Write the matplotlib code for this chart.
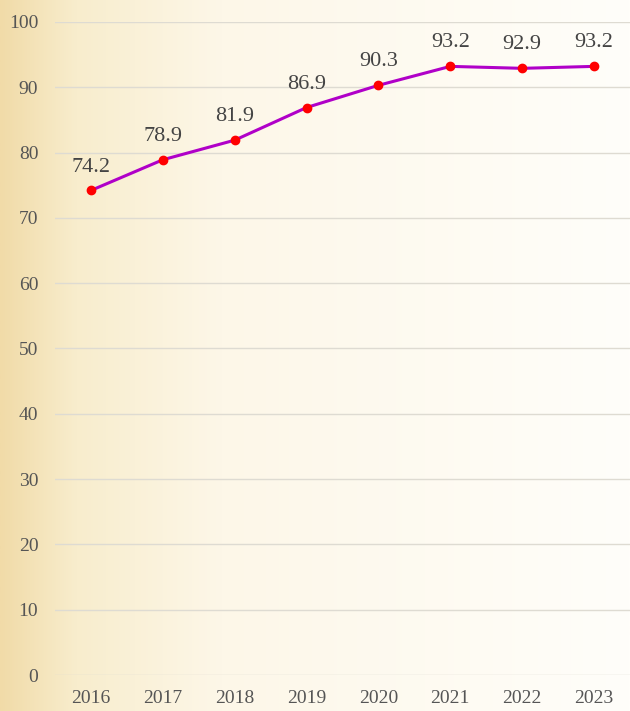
import numpy as np
import matplotlib.pyplot as plt
from matplotlib.colors import LinearSegmentedColormap

years = ['2016', '2017', '2018', '2019', '2020', '2021', '2022', '2023']
values = [74.2, 78.9, 81.9, 86.9, 90.3, 93.2, 92.9, 93.2]
y_ticks = [0, 10, 20, 30, 40, 50, 60, 70, 80, 90, 100]

plt.rcParams['font.family'] = ['Liberation Serif', 'DejaVu Serif']

fig = plt.figure(figsize=(6.3, 7.11), dpi=100)

# background gradient: tan on the left fading to cream on the right
bg = fig.add_axes([0, 0, 1, 1], zorder=-1)
bg.axis('off')
cmap = LinearSegmentedColormap.from_list(
    'bg', [(0.0, '#f1dba8'), (0.12, '#f8edcd'), (0.35, '#fdf7e8'), (1.0, '#fffefa')])
grad = np.linspace(0, 1, 256).reshape(1, -1)
bg.imshow(grad, aspect='auto', cmap=cmap, extent=[0, 1, 0, 1])

ax = fig.add_axes([0.0873, 0.0506, 0.9127, 0.9185])
ax.patch.set_alpha(0)
x = np.arange(len(years))
ax.plot(x, values, color='#b000c8', lw=2.2, zorder=3)
ax.plot(x, values, 'o', color='#ff0000', ms=6, zorder=4)
for xi, v in zip(x, values):
    ax.annotate(f'{v:.1f}', (xi, v), xytext=(0, 10), textcoords='offset points',
                ha='center', va='bottom', fontsize=16, color='#444444')

ax.set_xlim(-0.5, 7.5)
ax.set_ylim(0, 100)
ax.set_yticks(y_ticks)
ax.set_xticks(x, years)
ax.grid(axis='y', color='#dedbd2', lw=1)
ax.set_axisbelow(True)
for s in ax.spines.values():
    s.set_visible(False)
ax.tick_params(length=0, labelsize=14, labelcolor='#555555')
ax.tick_params(axis='y', pad=12)
ax.tick_params(axis='x', pad=11)

fig.savefig('out.png', dpi=100)
